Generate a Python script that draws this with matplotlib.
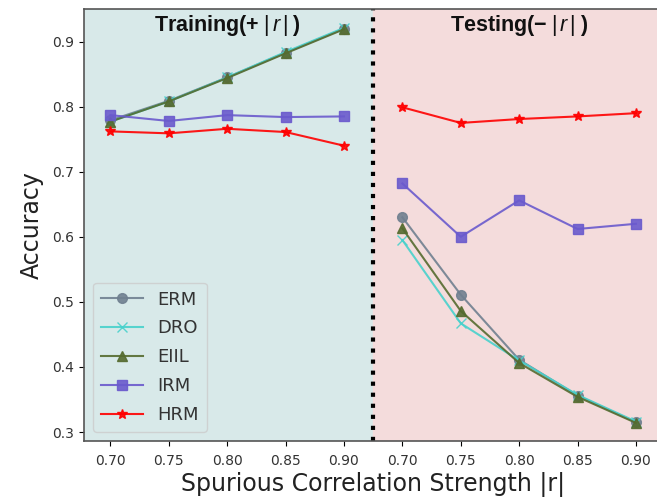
import numpy as np
import matplotlib.pyplot as plt

plt.rcParams["mathtext.fontset"] = "custom"
plt.rcParams["mathtext.rm"] = "Liberation Sans"
plt.rcParams["mathtext.it"] = "Liberation Sans:italic"

strengths = [0.70, 0.75, 0.80, 0.85, 0.90]
methods = ["ERM", "DRO", "EIIL", "IRM", "HRM"]

# accuracy on training environments (+|r|)
train_erm = [0.779, 0.809, 0.845, 0.883, 0.920]
train_dro = [0.777, 0.808, 0.845, 0.884, 0.921]
train_eiil = [0.777, 0.808, 0.844, 0.882, 0.919]
train_irm = [0.787, 0.778, 0.787, 0.784, 0.785]
train_hrm = [0.762, 0.759, 0.766, 0.761, 0.740]

# accuracy on testing environments (-|r|)
test_erm = [0.630, 0.511, 0.411, 0.356, 0.315]
test_dro = [0.595, 0.467, 0.410, 0.357, 0.316]
test_eiil = [0.613, 0.486, 0.406, 0.354, 0.314]
test_irm = [0.682, 0.600, 0.656, 0.612, 0.620]
test_hrm = [0.799, 0.775, 0.781, 0.785, 0.790]

styles = {
    "ERM": dict(color="slategray", marker="o"),
    "DRO": dict(color="mediumturquoise", marker="x"),
    "EIIL": dict(color="darkolivegreen", marker="^"),
    "IRM": dict(color="slateblue", marker="s"),
    "HRM": dict(color="red", marker="*"),
}
train = dict(zip(methods, [train_erm, train_dro, train_eiil, train_irm, train_hrm]))
test = dict(zip(methods, [test_erm, test_dro, test_eiil, test_irm, test_hrm]))

fig = plt.figure(figsize=(6.57, 5.03), dpi=100)
ax = fig.add_axes([0.128, 0.123, 0.88, 0.859])

n = len(strengths)
x_train = np.arange(n)
x_test = np.arange(n) + n

ax.axvspan(-1, n - 0.5, color="#d8e9e9", zorder=0)
ax.axvspan(n - 0.5, 2 * n + 1, color="#f4dcdc", zorder=0)

for m in methods:
    st = styles[m]
    ax.plot(x_train, train[m], label=m, linewidth=1.5, markersize=7, alpha=0.9, **st)
    ax.plot(x_test, test[m], linewidth=1.5, markersize=7, alpha=0.9, **st)

ax.axvline(n - 0.5, color="black", linestyle=":", linewidth=3)

ax.set_xlim(-0.45, 2 * n - 0.55)
ax.set_ylim(0.286, 0.950)
ax.set_xticks(np.concatenate([x_train, x_test]))
ax.set_xticklabels([f"{s:.2f}" for s in strengths] * 2, fontsize=10, color="#333333")
ax.set_yticks([0.3, 0.4, 0.5, 0.6, 0.7, 0.8, 0.9])
ax.set_yticklabels(["0.3", "0.4", "0.5", "0.6", "0.7", "0.8", "0.9"], fontsize=10, color="#333333")
ax.tick_params(axis="x", pad=6)
for sp in ax.spines.values():
    sp.set_color("#555555")
    sp.set_linewidth(1.2)

ax.set_xlabel("Spurious Correlation Strength |r|", fontsize=17, color="#222222", labelpad=3)
ax.set_ylabel("Accuracy", fontsize=17, color="#222222", labelpad=6)

ax.text(2, 0.924, r"Training(+$\;|\,r\,|\;$)", ha="center", va="center",
        fontsize=15.5, fontweight="bold", family="Liberation Sans", color="#111111")
ax.text(7, 0.924, r"Testing(−$\;|\,r\,|\;$)", ha="center", va="center",
        fontsize=15.5, fontweight="bold", family="Liberation Sans", color="#111111")

leg = ax.legend(loc="lower left", fontsize=13, handlelength=2.3, labelspacing=0.6,
                borderpad=0.45, facecolor="#d8e9e9", edgecolor="#cccccc")
for t in leg.get_texts():
    t.set_color("#333333")

fig.savefig("out.png", dpi=100)
